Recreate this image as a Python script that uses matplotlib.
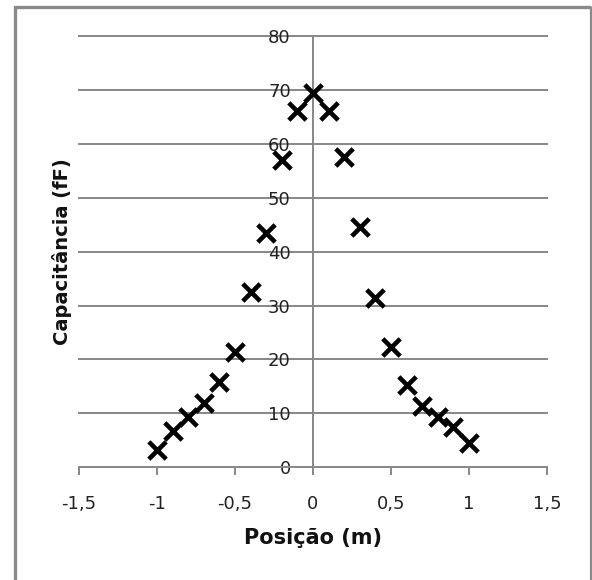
import matplotlib
matplotlib.use("Agg")
import matplotlib.pyplot as plt
from matplotlib.lines import Line2D

# Measured capacitance versus sensor position
posicao = [-1.0, -0.9, -0.8, -0.7, -0.6, -0.5, -0.4, -0.3, -0.2, -0.1, 0.0,
           0.1, 0.2, 0.3, 0.4, 0.5, 0.6, 0.7, 0.8, 0.9, 1.0]
capacitancia = [3.2, 6.8, 9.4, 11.9, 15.9, 21.3, 32.6, 43.5, 57.0, 66.0, 69.5,
                66.0, 57.6, 44.5, 31.4, 22.4, 15.3, 11.4, 9.3, 7.5, 4.5]

x_ticks = [-1.5, -1.0, -0.5, 0.0, 0.5, 1.0, 1.5]
x_tick_labels = ["-1,5", "-1", "-0,5", "0", "0,5", "1", "1,5"]
y_ticks = [0, 10, 20, 30, 40, 50, 60, 70, 80]
y_tick_labels = [str(v) for v in y_ticks]

W, H = 592, 580
grey = "#878787"

fig = plt.figure(figsize=(W / 100, H / 100), dpi=100)
fig.patch.set_facecolor("white")

ax = fig.add_axes([79 / W, (H - 467.3) / H, 468 / W, 431.3 / H])
ax.set_xlim(-1.5, 1.5)
ax.set_ylim(0, 80)

ax.scatter(posicao, capacitancia, marker="x", s=12.5 ** 2, linewidths=3.3,
           color="black", zorder=5, clip_on=False)

# Horizontal gridlines
for v in y_ticks[1:]:
    ax.axhline(v, color=grey, lw=1.4, zorder=1, clip_on=False)

# Spines: vertical axis through x = 0, horizontal axis at y = 0
for side in ("top", "right"):
    ax.spines[side].set_visible(False)
ax.spines["left"].set_position(("data", 0))
ax.spines["left"].set_color(grey)
ax.spines["left"].set_linewidth(1.4)
ax.spines["bottom"].set_color(grey)
ax.spines["bottom"].set_linewidth(1.4)

ax.set_xticks(x_ticks)
ax.set_xticklabels(x_tick_labels)
ax.set_yticks(y_ticks)
ax.set_yticklabels(y_tick_labels)

ax.tick_params(axis="x", direction="out", length=6, width=1.4, color=grey,
               pad=14, labelsize=13, labelcolor="#222222")
ax.tick_params(axis="y", length=0, pad=16, labelsize=13, labelcolor="#222222")

# Axis titles
fig.text(313 / W, (H - 538) / H, "Posição (m)", ha="center", va="center",
         fontsize=15, fontweight="bold", color="#111111")
fig.text(62 / W, (H - 252) / H, "Capacitância (fF)", ha="center", va="center",
         rotation=90, fontsize=14, fontweight="bold", color="#111111")

# Chart frame (open at the bottom edge of the image)
def px_path(xs, ys, lw):
    fig.add_artist(Line2D([x / W for x in xs], [1 - y / H for y in ys],
                          transform=fig.transFigure, color="#8a8a8a", lw=lw,
                          solid_joinstyle="miter", solid_capstyle="butt"))

px_path([15, 15, 591], [585, 6.7, 6.7], 2.4)
px_path([591, 591], [6.7, 585], 1.6)

fig.savefig("out.png", dpi=100, facecolor="white")
